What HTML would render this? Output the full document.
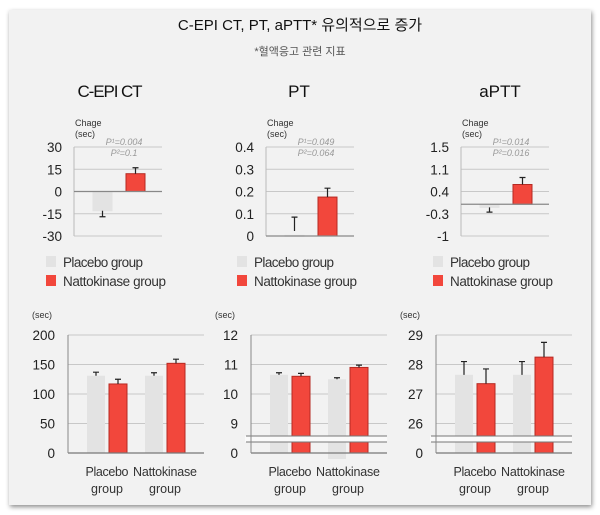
<!DOCTYPE html>
<html><head><meta charset="utf-8"><style>
body{margin:0;background:#fff;width:600px;height:515px;overflow:hidden}
svg{display:block;font-family:"Liberation Sans","Noto Sans CJK KR",sans-serif}
</style></head><body>
<svg id="c" width="600" height="515">
<defs><filter id="sh" x="-5%" y="-5%" width="110%" height="110%"><feDropShadow dx="1" dy="2" stdDeviation="2.5" flood-color="#000" flood-opacity="0.45"/></filter></defs>
<rect x="9" y="10" width="582" height="495" fill="#f2f2f2" filter="url(#sh)"/>
<text x="300" y="30" text-anchor="middle" font-size="15" fill="#111">C-EPI CT, PT, aPTT* 유의적으로 증가</text>
<text x="300" y="55" text-anchor="middle" font-size="11" fill="#555">*혈액응고 관련 지표</text>
<text x="110" y="97" text-anchor="middle" font-size="17" fill="#111" textLength="65">C-EPI CT</text>
<text x="299" y="97" text-anchor="middle" font-size="17" fill="#111">PT</text>
<text x="500" y="97" text-anchor="middle" font-size="17" fill="#111">aPTT</text>
<g id="g"></g>
</svg>
<script>
// Top change charts
const topTicks1=[30,15,0,-15,-30], topTicks2=[0.4,0.3,0.2,0.1,0], topTicks3=[1.5,1.1,0.4,-0.3,-1];
const topLabels3=["1.5","1.1","0.4","-0.3","-1"];
const chgPlacebo=[-13,0.003,-0.1], chgPlaceboErr=[-17,0.085,-0.25];
const chgNatto=[12,0.175,0.62], chgNattoErr=[16,0.215,0.84];
const pVal1=["P¹=0.004","P¹=0.049","P¹=0.014"], pVal2=["P²=0.1","P²=0.064","P²=0.016"];
// Bottom absolute charts
const botTicks1=[200,150,100,50], botTicks2=[12,11,10,9], botTicks3=[29,28,27,26];
const groups=["Placebo group","Nattokinase group"];
const botBefore=[[131,131],[10.65,10.5],[27.65,27.65]], botBeforeErr=[[137,136],[10.72,10.55],[28.1,28.1]];
const botAfter=[[117,152],[10.6,10.9],[27.35,28.25]], botAfterErr=[[125,159],[10.7,10.98],[27.85,28.75]];

const g=document.getElementById('g'), NS='http://www.w3.org/2000/svg';
function mk(t,a,txt){const e=document.createElementNS(NS,t);for(const k in a)e.setAttribute(k,a[k]);if(txt!==undefined)e.textContent=txt;g.appendChild(e);return e;}
function scale(ticks,top,bot){const n=ticks.length-1,step=(bot-top)/n;return v=>{for(let i=0;i<n;i++){const a=ticks[i],b=ticks[i+1];if((v<=a&&v>=b)||i==n-1){return top+step*(i+(a-v)/(a-b));}}};}

const topX=[74,266,461], topTicks=[topTicks1,topTicks2,topTicks3], legX=[46,237,433];
for(let c=0;c<3;c++){
  const x0=topX[c],w=88,top=147,bot=236,tk=topTicks[c],y=scale(tk,top,bot);
  tk.forEach((t,i)=>{const yy=top+i*(bot-top)/4;
    const l=mk('line',{x1:x0,x2:x0+w,y1:yy,y2:yy,stroke:'#c8c8c8','stroke-width':1});
    
    const tx=mk('text',{x:x0-12,y:yy+5,'text-anchor':'end','font-size':13.5,fill:'#222'},c==2?topLabels3[i]:String(t));
    });
  const ax=mk('line',{x1:x0,x2:x0,y1:top,y2:bot,stroke:'#bbb'});
  const y0=y(0);
  const drawBar=(bx,v,e,fill,stroke,name)=>{
    const a=Math.min(y(v),y0),h=Math.abs(y(v)-y0);
    const r=mk('rect',{x:bx,y:a,width:19,height:Math.max(h,1),fill:fill,stroke:stroke,'stroke-width':1});
    
    const ey=y(e);
    const start=(Math.abs(y(v)-y0)<3)?y0-5:y(v);
    const el=mk('path',{d:`M${bx+9.5},${start}V${ey}M${bx+6.5},${ey}H${bx+12.5}`,stroke:'#222','stroke-width':1.2,fill:'none'});
    };
  drawBar(x0+19,chgPlacebo[c],chgPlaceboErr[c],'#e3e3e3','#e3e3e3','bar-placebo-change');
  drawBar(x0+52,chgNatto[c],chgNattoErr[c],'#f2473c','#b52a22','bar-nattokinase-change');
  const zl=mk('line',{x1:x0,x2:x0+w,y1:y0,y2:y0,stroke:'#888','stroke-width':1.3});
  const ch=mk('text',{x:x0+1,y:126,'font-size':9,fill:'#333'},'Chage');
  const cs=mk('text',{x:x0+1,y:137,'font-size':9,fill:'#333'},'(sec)');
  const p1=mk('text',{x:x0+50,y:145,'text-anchor':'middle','font-size':9,'font-style':'italic',fill:'#999'},pVal1[c]);
  const p2=mk('text',{x:x0+50,y:156,'text-anchor':'middle','font-size':9,'font-style':'italic',fill:'#999'},pVal2[c]);
  const lx=legX[c];
  const s1=mk('rect',{x:lx,y:256,width:10,height:11,fill:'#e3e3e3'});
  const t1=mk('text',{x:lx+17,y:267,'font-size':13.5,fill:'#333',textLength:80},'Placebo group');
  const s2=mk('rect',{x:lx,y:275,width:10,height:11,fill:'#f2473c'});
  const t2=mk('text',{x:lx+17,y:286,'font-size':13.5,fill:'#333',textLength:103},'Nattokinase group');
}

const botX=[68,251,436], botTicks=[botTicks1,botTicks2,botTicks3];
for(let c=0;c<3;c++){
  const x0=botX[c],w=136,top=335,step=29.5,base=453,tk=botTicks[c];
  const brk=c>0;
  const y=v=>{const t0=tk[0],t1=tk[1];return top+(t0-v)/(t0-t1)*step;};
  tk.forEach((t,i)=>{const yy=top+i*step;
    const l=mk('line',{x1:x0,x2:x0+w,y1:yy,y2:yy,stroke:'#c8c8c8'});
    const tx=mk('text',{x:x0-13,y:yy+5,'text-anchor':'end','font-size':13.5,fill:'#222'},String(t));});
  const z=mk('text',{x:x0-13,y:base+5,'text-anchor':'end','font-size':13.5,fill:'#222'},'0');
  const offs=[[19,41],[77,99]];
  for(let k=0;k<2;k++){
    const bx1=x0+offs[k][0],bx2=x0+offs[k][1];
    const pv=botBefore[c][k],pe=botBeforeErr[c][k],nv=botAfter[c][k],ne=botAfterErr[c][k];
    const r1=mk('rect',{x:bx1,y:y(pv),width:18,height:base-y(pv)+(c==1&&k==1?6:0),fill:'#e3e3e3'});
    const e1=mk('path',{d:`M${bx1+9},${y(pv)}V${y(pe)}M${bx1+6},${y(pe)}H${bx1+12}`,stroke:'#222','stroke-width':1.2,fill:'none'});
    const r2=mk('rect',{x:bx2,y:y(nv),width:18,height:base-y(nv),fill:'#f2473c',stroke:'#b52a22'});
    const e2=mk('path',{d:`M${bx2+9},${y(nv)}V${y(ne)}M${bx2+6},${y(ne)}H${bx2+12}`,stroke:'#222','stroke-width':1.2,fill:'none'});
  }
  if(brk){const br=mk('rect',{x:x0-6,y:436,width:w+6,height:6,fill:'#fafafa'});
    [436,442].forEach(v=>{const l=mk('line',{x1:x0-5,x2:x0+w,y1:v,y2:v,stroke:'#777'});});}
  const bl=mk('line',{x1:x0,x2:x0+w,y1:base,y2:base,stroke:'#777','stroke-width':1.2});
  const ax=mk('line',{x1:x0,x2:x0,y1:top,y2:base,stroke:'#888'});
  const un=mk('text',{x:x0-36,y:318,'font-size':9,fill:'#333'},'(sec)');
  const cxs=[39,97], lens=[43,64];
  groups.forEach((gname,k)=>{const cx=x0+cxs[k];const parts=gname.split(' ');
    const a=mk('text',{x:cx,y:476,'text-anchor':'middle','font-size':12.5,fill:'#333',textLength:lens[k]},parts[0]);
    const b=mk('text',{x:cx,y:493,'text-anchor':'middle','font-size':12.5,fill:'#333'},parts[1]);});
}
</script>
</body></html>
